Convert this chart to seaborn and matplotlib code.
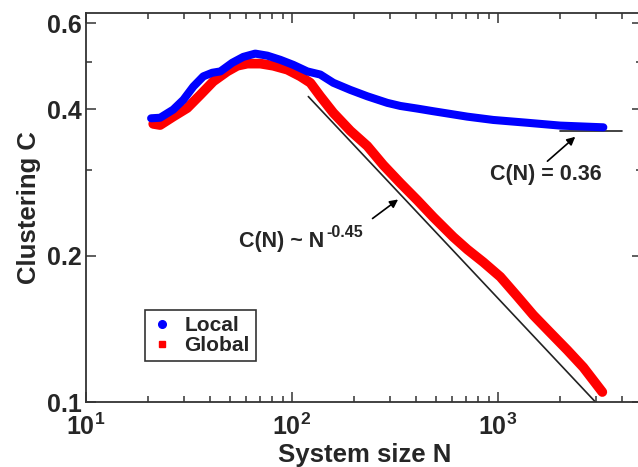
import matplotlib
matplotlib.use("Agg")
import matplotlib.pyplot as plt
from matplotlib.lines import Line2D
from matplotlib.ticker import FixedLocator, FixedFormatter, NullFormatter
import numpy as np
import pandas as pd
import seaborn as sns

# Clustering coefficient versus system size
local_n = [20.7, 22.9, 26.5, 29.7, 33.2, 37.1, 41.0, 44.9, 51.3, 58.0, 66.3, 75.9,
           87.7, 101.5, 118.7, 137.2, 158.7, 191.9, 232, 290, 335.6, 405.7, 485.3,
           586.6, 709.6, 948.8, 1387, 2006, 3245]
local_c = [0.383, 0.384, 0.399, 0.418, 0.445, 0.467, 0.475, 0.478, 0.498, 0.512, 0.520,
           0.515, 0.505, 0.493, 0.478, 0.471, 0.453, 0.438, 0.425, 0.412, 0.406, 0.401,
           0.396, 0.391, 0.386, 0.380, 0.375, 0.370, 0.367]

global_n = [21.2, 22.9, 26.5, 31.0, 35.9, 41.5, 48.5, 54.3, 60.7, 70.2, 81.1, 94.9,
            109.7, 122.7, 137.2, 158.7, 191.9, 232, 277.5, 335.6, 405.7, 485.3, 606.7,
            709.6, 848.4, 1026, 1241, 1484, 1794, 2170, 2595, 3208]
global_c = [0.373, 0.371, 0.386, 0.402, 0.428, 0.456, 0.478, 0.491, 0.496, 0.496, 0.491,
            0.482, 0.467, 0.453, 0.425, 0.393, 0.361, 0.336, 0.307, 0.282, 0.260, 0.240,
            0.2185, 0.206, 0.194, 0.181, 0.165, 0.151, 0.139, 0.128, 0.118, 0.105]

# Reference power law and plateau
fit_prefactor = 3.66
fit_exponent = -0.45
fit_n = [120, 3000]
plateau_c = 0.36
plateau_n = [2000, 4000]

x_major = [10, 100, 1000]
x_major_labels = [r"$\mathbf{10^{1}}$", r"$\mathbf{10^{2}}$", r"$\mathbf{10^{3}}$"]
x_minor = [m * d for d in (10, 100, 1000) for m in range(2, 10)]
y_major = [0.1, 0.2, 0.4, 0.6]
y_major_labels = ["0.1", "0.2", "0.4", "0.6"]
y_minor = [0.3, 0.5]

sns.set_style("ticks")
plt.rcParams["font.family"] = ["Liberation Sans", "DejaVu Sans"]
plt.rcParams["font.weight"] = "bold"
plt.rcParams["mathtext.fontset"] = "custom"
plt.rcParams["mathtext.rm"] = "Liberation Sans:bold"
plt.rcParams["mathtext.bf"] = "Liberation Sans:bold"
plt.rcParams["mathtext.it"] = "Liberation Sans:bold:italic"

df_local = pd.DataFrame({"N": local_n, "C": local_c})
df_global = pd.DataFrame({"N": global_n, "C": global_c})

fig = plt.figure(figsize=(6.38, 4.67), dpi=100)
ax = fig.add_axes([0.1348, 0.1385, 0.8715, 0.8336])

sns.lineplot(data=df_global, x="N", y="C", ax=ax, color="#ff0000", linewidth=7.0,
             solid_joinstyle="round", solid_capstyle="round", sort=False, zorder=3)
sns.lineplot(data=df_local, x="N", y="C", ax=ax, color="#0000ff", linewidth=5.8,
             solid_joinstyle="round", solid_capstyle="round", sort=False, zorder=4)

fit_n_arr = np.array(fit_n, dtype=float)
ax.plot(fit_n_arr, fit_prefactor * fit_n_arr ** fit_exponent, color="#222222", lw=1.2, zorder=2)
ax.plot(plateau_n, [plateau_c, plateau_c], color="#222222", lw=1.2, zorder=2)

ax.set_xscale("log")
ax.set_yscale("log")
ax.set_xlim(10, 5000)
ax.set_ylim(0.1, 0.63)

ax.xaxis.set_major_locator(FixedLocator(x_major))
ax.xaxis.set_major_formatter(FixedFormatter(x_major_labels))
ax.xaxis.set_minor_locator(FixedLocator(x_minor))
ax.xaxis.set_minor_formatter(NullFormatter())
ax.yaxis.set_major_locator(FixedLocator(y_major))
ax.yaxis.set_major_formatter(FixedFormatter(y_major_labels))
ax.yaxis.set_minor_locator(FixedLocator(y_minor))
ax.yaxis.set_minor_formatter(NullFormatter())

ax.tick_params(which="both", direction="in", top=True, right=True, color="#333333", width=1.1)
ax.tick_params(which="major", length=7, labelsize=18)
ax.tick_params(axis="x", which="major", pad=8)
ax.tick_params(axis="y", which="major", pad=3)
ax.tick_params(which="minor", length=4)
for s in ax.spines.values():
    s.set_linewidth(1.3)
    s.set_color("#333333")
    s.set_visible(True)

ax.set_xlabel("System size N", fontsize=18.5, fontweight="bold", va="top")
ax.xaxis.set_label_coords(0.502, -0.104)
ax.set_ylabel("Clustering C", fontsize=18.5, fontweight="bold", labelpad=4)

ax.text(1697, 0.293, "C(N) = 0.36", fontsize=15.5, fontweight="bold", ha="center", va="center")
ax.annotate("", xy=(2427, 0.354), xytext=(1697, 0.310),
            arrowprops=dict(arrowstyle="-|>", color="black", lw=1.2, mutation_scale=12))
law_text = ax.text(55.5, 0.2084, "C(N) ~ N", fontsize=15.5, fontweight="bold",
                   ha="left", va="baseline")
ax.annotate("-0.45", xy=(1.0, 0.55), xycoords=law_text, xytext=(1, 0),
            textcoords="offset points", fontsize=11.5, fontweight="bold",
            ha="left", va="bottom")
ax.annotate("", xy=(335.6, 0.263), xytext=(239.9, 0.2366),
            arrowprops=dict(arrowstyle="-|>", color="black", lw=1.2, mutation_scale=12))

handles = [Line2D([], [], marker="o", color="#0000ff", ls="none", ms=5.5),
           Line2D([], [], marker="s", color="#ff0000", ls="none", ms=5)]
leg = ax.legend(handles, ["Local", "Global"], loc="lower left", bbox_to_anchor=(0.106, 0.105),
                fontsize=15, frameon=True, fancybox=False, handlelength=1.0,
                handletextpad=0.6, borderpad=0.3, labelspacing=0.05, borderaxespad=0)
leg.get_frame().set_edgecolor("black")
leg.get_frame().set_linewidth(1.2)
for t in leg.get_texts():
    t.set_fontweight("bold")

fig.savefig("out.png", dpi=100)
